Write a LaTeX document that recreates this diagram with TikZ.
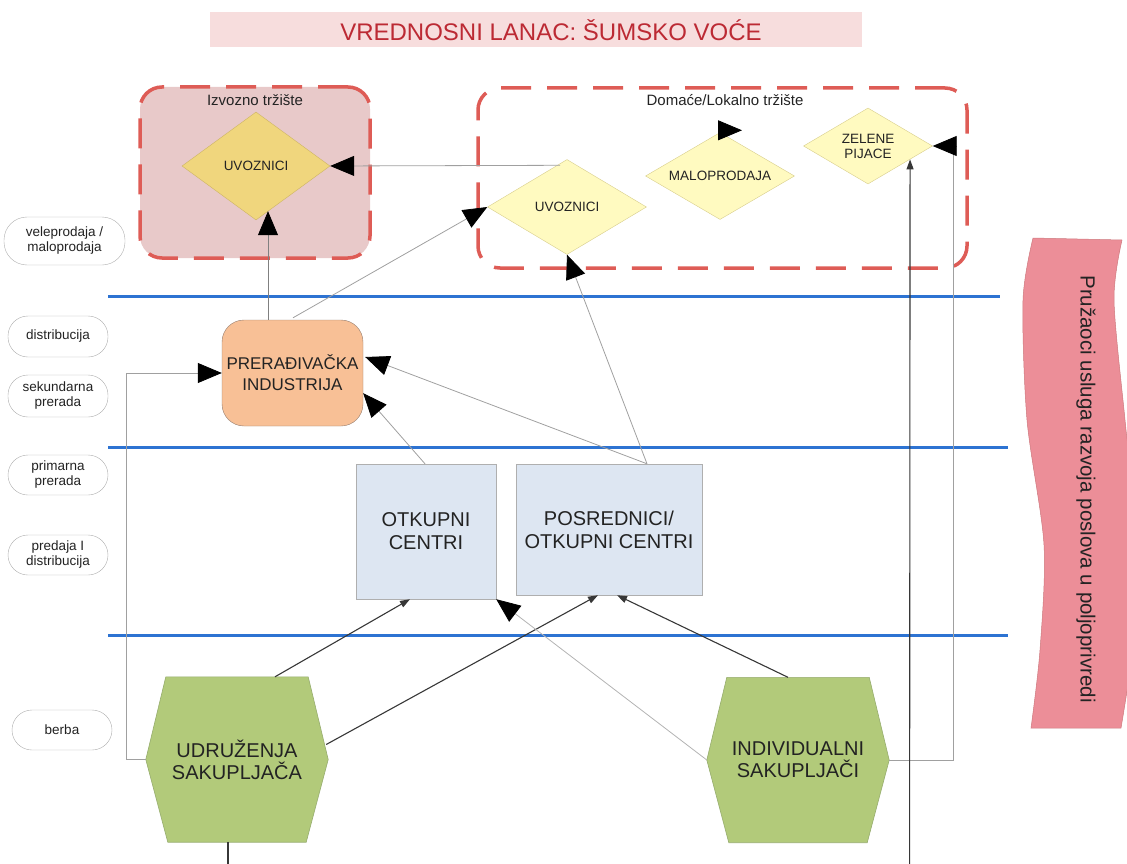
\documentclass[tikz,border=0pt]{standalone}
\usepackage{fontspec}
\setmainfont{Liberation Sans}
\usetikzlibrary{shapes.geometric,arrows.meta,calc,backgrounds}

\definecolor{titleband}{RGB}{247,221,221}
\definecolor{titletext}{RGB}{188,42,52}
\definecolor{exportfill}{RGB}{232,201,201}
\definecolor{dashred}{RGB}{222,92,86}
\definecolor{goldfill}{RGB}{240,214,125}
\definecolor{golddraw}{RGB}{205,180,100}
\definecolor{paleyellow}{RGB}{255,250,192}
\definecolor{paledraw}{RGB}{215,205,140}
\definecolor{peach}{RGB}{248,192,150}
\definecolor{peachdraw}{RGB}{150,125,110}
\definecolor{bluefill}{RGB}{221,230,242}
\definecolor{boxgray}{RGB}{175,175,175}
\definecolor{hexgreen}{RGB}{178,202,122}
\definecolor{hexdraw}{RGB}{150,172,110}
\definecolor{sepblue}{RGB}{45,115,210}
\definecolor{bandpink}{RGB}{236,142,152}
\definecolor{banddraw}{RGB}{205,120,125}
\definecolor{linegray}{RGB}{160,160,160}
\definecolor{linedark}{RGB}{55,55,55}
\definecolor{textdark}{RGB}{35,35,35}

\begin{document}
\begin{tikzpicture}[x=1pt,y=-1pt,
  every node/.style={text=textdark},
  pill/.style={draw=boxgray, fill=white, rounded corners=20pt, minimum width=100pt,
    minimum height=40pt, inner sep=0pt, align=center,
    font=\fontsize{13.5}{15}\selectfont},
  market/.style={draw=dashred, line width=3.5pt, dash pattern=on 30pt off 16pt,
    rounded corners=22pt, inner sep=0pt},
  marketlabel/.style={font=\fontsize{15}{18}\selectfont},
  decision/.style={shape=diamond, draw, shape aspect=1.5, inner sep=0pt, align=center,
    font=\fontsize{13.5}{15}\selectfont},
  stagebox/.style={draw=boxgray, fill=bluefill, inner sep=0pt, align=center,
    font=\fontsize{20}{23}\selectfont},
  gatherer/.style={inner sep=0pt, minimum width=182pt, minimum height=165pt, align=center,
    font=\fontsize{20}{22}\selectfont},
  hexshape/.style={fill=hexgreen, draw=hexdraw, line width=0.6pt},
  separator/.style={draw=sepblue, line width=3pt},
  light/.style={draw=linegray, line width=0.8pt},
  dark/.style={draw=linedark, line width=1.1pt},
  bigtip/.style={-{Triangle[length=24pt,width=20pt,color=black]}},
  smalltip/.style={-{Triangle[length=10pt,width=7pt]}}
]
\useasboundingbox (0,0) rectangle (1127,864);

% title banner
\node[fill=titleband, minimum width=652pt, minimum height=35pt, inner sep=0pt] (titleband) at (536,29.5) {};
\node[text=titletext, font=\fontsize{24}{28}\selectfont] (title) at (551,30) {VREDNOSNI LANAC: ŠUMSKO VOĆE};

% stage separators
\draw[separator] (108,296) -- (1000,296);
\draw[separator] (108,447) -- (1008,447);
\draw[separator] (108,635) -- (1008,635);

% markets
\node[market, fill=exportfill, minimum width=230pt, minimum height=171pt] (export) at (255,172.5) {};
\node[marketlabel] (exportlbl) at (255,100) {Izvozno tržište};
\node[market, minimum width=489pt, minimum height=180pt] (domestic) at (722.5,178) {};
\node[marketlabel] (domesticlbl) at (725,100) {Domaće/Lokalno tržište};

\node[decision, fill=goldfill, draw=golddraw, minimum width=148pt, minimum height=108pt] (expU) at (256,166) {UVOZNICI};
\node[decision, fill=paleyellow, draw=paledraw, minimum width=159pt, minimum height=95pt] (domU) at (567,207) {UVOZNICI};
\node[decision, fill=paleyellow, draw=paledraw, minimum width=149pt, minimum height=87pt] (malo) at (720,176) {MALOPRODAJA};
\node[decision, fill=paleyellow, draw=paledraw, minimum width=129pt, minimum height=76pt] (zel) at (868,146) {ZELENE\\PIJACE};

% stage labels
\node[pill, minimum width=121pt, minimum height=48pt, rounded corners=23pt] (vel) at (64.5,241) {veleprodaja /\\maloprodaja};
\node[pill, minimum height=41pt] (dist) at (58,336.5) {distribucija};
\node[pill, minimum height=42pt] (sek) at (58,396) {sekundarna\\prerada};
\node[pill] (prim) at (58,475) {primarna\\prerada};
\node[pill] (pred) at (58,555) {predaja I\\distribucija};
\node[pill] (berba) at (62,730) {berba};

% processing and collection
\node[draw=peachdraw, fill=peach, rounded corners=22pt, minimum width=141pt, minimum height=106pt,
  inner sep=0pt, align=center, font=\fontsize{17}{21}\selectfont] (prer) at (292.5,373) {PRERAĐIVAČKA\\INDUSTRIJA};
\node[stagebox, minimum width=140pt, minimum height=135pt] (otk) at (426,531.5) {OTKUPNI\\CENTRI};
\node[stagebox, minimum width=186pt, minimum height=131pt] (posr) at (609,529.5) {POSREDNICI/\\OTKUPNI CENTRI};

% gatherers (hexagons on the background layer)
\node[gatherer] (udr) at (237,759.5) {UDRUŽENJA\\SAKUPLJAČA};
\node[gatherer] (ind) at (798,760) {INDIVIDUALNI\\SAKUPLJAČI};
\begin{pgfonlayer}{background}
  \foreach \h in {udr,ind}{
    \draw[hexshape] ($(\h.north west)+(20,0)$) -- ($(\h.north east)+(-20,0)$) -- (\h.east)
      -- ($(\h.south east)+(-22,0)$) -- ($(\h.south west)+(22,0)$) -- (\h.west) -- cycle;
  }
\end{pgfonlayer}

% service providers band
\fill[bandpink, draw=banddraw, line width=0.5pt]
  plot[smooth] coordinates {(1033,238) (1023,300) (1027,420) (1044,545) (1040,650) (1031,728)}
  -- plot[smooth] coordinates {(1121,728) (1134,640) (1138,545) (1125,420) (1114,300) (1122,240)}
  -- cycle;
\node[rotate=-90, font=\fontsize{20.5}{24}\selectfont] (svc) at (1086,489)
  {Pružaoci usluga razvoja poslova u poljoprivredi};

% free ends below the picture
\coordinate (udrOut) at (228,866);
\coordinate (zelIn) at (909.6,866);

% flows
\draw[light, draw=gray, bigtip] ($(prer.north)+(-24.5,0)$) -- ($(expU.south)+(12,-9)$);
\draw[light, bigtip] ($(prer.north)+(0.5,-2)$) -- (domU.west);
\draw[light, bigtip] ($(domU.north)+(-7,6)$) -- (expU.east);
\draw[light, bigtip] ($(posr.north)+(38,0)$) -- (domU.south);
\draw[light, bigtip] ($(posr.north)+(38,0)$) -- ($(prer.east)+(2,-16)$);
\draw[light, bigtip] ($(otk.north)+(-1,0)$) -- ($(prer.south east)+(0,-33)$);
\draw[light, bigtip] ($(malo.north)+(2,-2)$) -- ($(malo.north)+(22,-2)$);

\draw[dark, smalltip] ($(udr.north)+(38,0)$) -- ($(otk.south)+(-16,0)$);
\draw[dark, smalltip] ($(udr.east)+(-2,-15)$) -- ($(posr.south)+(-11,0)$);
\draw[dark, smalltip] ($(ind.north)+(-10,0)$) -- ($(posr.south)+(8,0)$);
\draw[light, draw=linegray!80, bigtip] (ind.west) -- (otk.south east);

\draw[light, bigtip] (udr.west) -- ++(-19,0) |- (prer.west);
\draw[light, bigtip] (ind.east) -- ++(64,0) |- (zel.east);

\draw[dark] ($(udr.south)+(-9,0)$) -- (udrOut);
\draw[dark, smalltip] (zelIn) -- ($(zel.east)!0.35!(zel.south)$);
\end{tikzpicture}
\end{document}
